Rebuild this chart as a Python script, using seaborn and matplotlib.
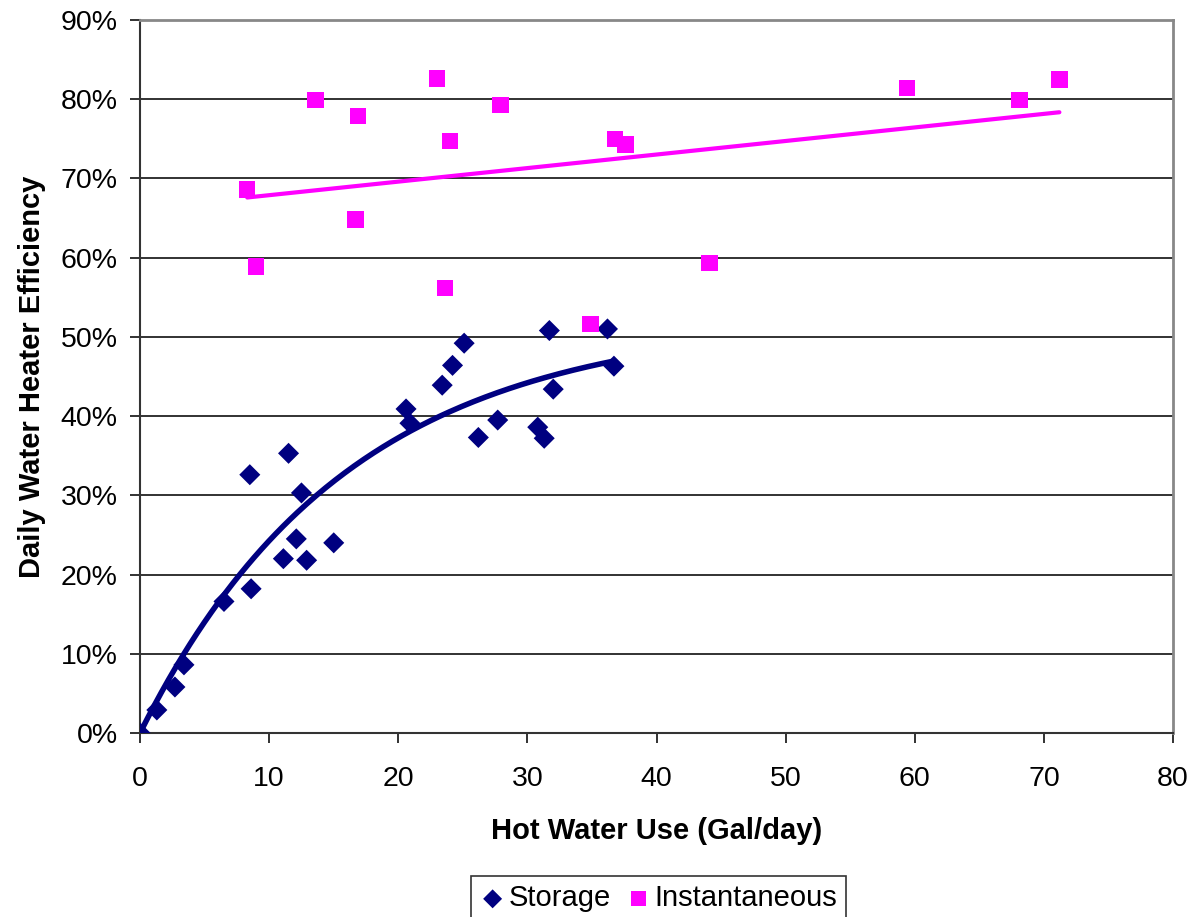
import numpy as np
import pandas as pd
import matplotlib
matplotlib.use('Agg')
import matplotlib.pyplot as plt
import seaborn as sns
from matplotlib.ticker import PercentFormatter

# Storage heaters (gal/day, efficiency %)
storage_x = [0, 1.3, 2.7, 3.4, 6.5, 8.6, 8.5, 11.5, 11.1, 12.1, 12.9, 12.5, 15.0,
             20.6, 20.9, 23.4, 24.2, 25.1, 26.2, 27.7, 30.8, 31.3, 31.7, 32.0, 36.2, 36.7]
storage_y = [0, 2.9, 5.8, 8.6, 16.6, 18.2, 32.6, 35.3, 22.0, 24.5, 21.8, 30.3, 24.0,
             40.9, 39.1, 43.9, 46.4, 49.2, 37.3, 39.5, 38.6, 37.2, 50.8, 43.4, 51.0, 46.3]

# Instantaneous heaters
inst_x = [8.3, 9.0, 13.6, 16.9, 16.7, 23.0, 24.0, 23.6, 27.9, 36.8, 37.6, 34.9,
          44.1, 59.4, 68.1, 71.2]
inst_y = [68.6, 58.9, 79.9, 77.9, 64.8, 82.6, 74.7, 56.2, 79.3, 75.0, 74.3, 51.6,
          59.3, 81.4, 79.9, 82.5]

df_s = pd.DataFrame({'x': storage_x, 'y': storage_y})
df_i = pd.DataFrame({'x': inst_x, 'y': inst_y})

# trend lines fitted from the data
# storage: saturating curve y = A(1 - exp(-x/k)), k by grid search
xs = np.array(storage_x)
ys = np.array(storage_y)
best = None
for k in np.linspace(5, 40, 351):
    g = 1 - np.exp(-xs / k)
    A = (g @ ys) / (g @ g)
    err = ((A * g - ys) ** 2).sum()
    if best is None or err < best[0]:
        best = (err, A, k)
_, A, k = best
sx = np.linspace(0, xs.max(), 200)
sy = A * (1 - np.exp(-sx / k))

coef = np.polyfit(inst_x, inst_y, 1)
ix = np.array([min(inst_x), max(inst_x)])
iy = np.polyval(coef, ix)

sns.set_style('white')
plt.rcParams['font.family'] = ['Liberation Sans', 'DejaVu Sans']
plt.rcParams['text.color'] = 'black'
plt.rcParams['axes.labelcolor'] = 'black'
plt.rcParams['xtick.color'] = 'black'
plt.rcParams['ytick.color'] = 'black'

fig = plt.figure(figsize=(11.95, 9.17), dpi=100)
ax = fig.add_axes([0.1172, 0.2007, 0.8644, 0.7775])

for y in range(10, 91, 10):
    ax.axhline(y, color='#222222', lw=1.3, zorder=0)

ax.plot(sx, sy, color='#000080', lw=4, zorder=2)
ax.plot(ix, iy, color='#FF00FF', lw=3, zorder=2)

sns.scatterplot(data=df_s, x='x', y='y', ax=ax, marker='D', color='#000080',
                s=115, edgecolor='none', zorder=3, label='Storage', legend=False)
sns.scatterplot(data=df_i, x='x', y='y', ax=ax, marker='s', color='#FF00FF',
                s=140, edgecolor='none', zorder=3, label='Instantaneous', legend=False)

ax.set_xlim(0, 80)
ax.set_ylim(0, 90)
ax.set_xticks(range(0, 81, 10))
ax.set_yticks(range(0, 91, 10))
ax.yaxis.set_major_formatter(PercentFormatter(decimals=0))
ax.tick_params(axis='both', which='major', labelsize=20.5, length=7, width=1.3,
               color='#222222', direction='out', bottom=True, left=True)
ax.tick_params(axis='y', pad=9)
ax.tick_params(axis='x', pad=17)

for side in ['left', 'bottom']:
    ax.spines[side].set_color('#333333')
    ax.spines[side].set_linewidth(1.5)
for side in ['top', 'right']:
    ax.spines[side].set_color('#888888')
    ax.spines[side].set_linewidth(2)

ax.set_xlabel('Hot Water Use (Gal/day)', fontsize=21, fontweight='bold', labelpad=18)
ax.set_ylabel('Daily Water Heater Efficiency', fontsize=21, fontweight='bold', labelpad=11)

h, l = ax.get_legend_handles_labels()
leg = fig.legend(h, l, loc='upper center', bbox_to_anchor=(0.551, 0.045),
                 ncol=2, fontsize=21, frameon=True, fancybox=False,
                 edgecolor='black', handletextpad=0.1, columnspacing=0.5,
                 handlelength=0.9, borderpad=0.3, borderaxespad=0,
                 markerscale=0.9)
leg.get_frame().set_linewidth(1.2)

fig.savefig('out.png', dpi=100)
